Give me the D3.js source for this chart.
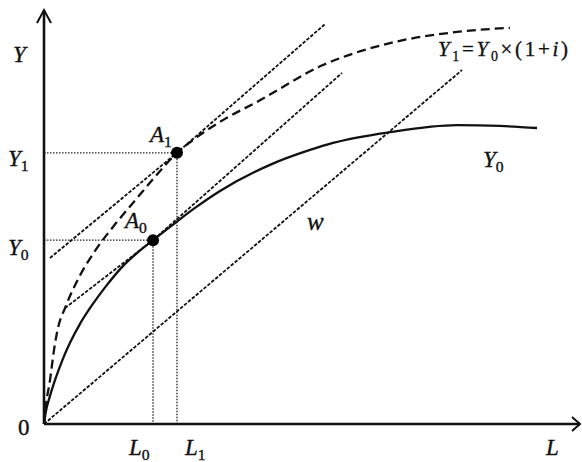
<!DOCTYPE html>
<html>
<head>
<meta charset="utf-8">
<script src="https://cdn.jsdelivr.net/npm/d3@7"></script>
<style>
body{margin:0;background:#fff}
text{font-family:"Liberation Serif","Times New Roman",serif;fill:#111;stroke:#111;stroke-width:0.35}
</style>
</head>
<body>
<svg width="582" height="462"></svg>
<script>
// output curve Y0 (L, Y)
var curveY0 = [[0,0],[0.37,3.1],[1.12,6.8],[2.05,10.6],[3.36,15.2],[4.85,19.6],[6.72,24.2],
  [8.96,28.7],[11.57,33.3],[14.55,37.9],[17.54,41.5],[20.34,44.4],[23.51,47.6],[28.17,52.2],
  [32.84,56.3],[42.16,62.6],[49.63,66.2],[53.92,67.9],[64.55,70.5],[77.05,72.2],[85.07,72.0],
  [91.98,71.5]];
// shifted curve Y1 = Y0*(1+i)
var curveY1 = [[0,0],[0.37,4.6],[1.12,10.6],[1.87,17.9],[2.61,23.2],[3.92,28.0],[6.16,34.5],
  [9.51,41.8],[12.87,47.6],[16.60,53.4],[20.71,59.7],[24.81,65.5],[28.54,69.3],[33.77,73.7],
  [39.74,77.8],[52.05,86.7],[64.55,92.0],[77.05,94.7],[86.94,95.7]];
// wage line and the two tangents parallel to it
var lineW = [[0,0],[77.99,85.5]];
var tangentA1 = [[1.12,40.1],[24.81,65.5],[52.43,96.6]];
var tangentA0 = [[3.92,28.0],[20.34,44.4],[55.60,84.8]];
// equilibrium points
var pointNames = ["A0","A1"];
var pointL = [20.34,24.81];
var pointY = [44.4,65.5];

var svg = d3.select("svg");
var x = d3.scaleLinear().domain([0,100]).range([44,580]);
var y = d3.scaleLinear().domain([0,100]).range([424,10]);

var line = d3.line().x(function(d){return x(d[0]);}).y(function(d){return y(d[1]);});
var smooth = d3.line().x(function(d){return x(d[0]);}).y(function(d){return y(d[1]);})
  .curve(d3.curveMonotoneX);

// guide lines
var guides = svg.append("g").attr("fill","none").attr("stroke","#222")
  .attr("stroke-width",1.3).attr("stroke-dasharray","1.5,1.5");
pointL.forEach(function(l,i){
  guides.append("line").attr("x1",x(0)).attr("y1",y(pointY[i])).attr("x2",x(l)).attr("y2",y(pointY[i]));
  guides.append("line").attr("x1",x(l)).attr("y1",y(pointY[i])).attr("x2",x(l)).attr("y2",y(0));
});

// straight dashed lines
svg.append("g").attr("fill","none").attr("stroke","#111").attr("stroke-width",1.8)
  .attr("stroke-dasharray","3.5,1.6")
  .selectAll("path").data([lineW,tangentA1,tangentA0]).enter().append("path")
  .attr("d",line);

// curves
svg.append("path").datum(curveY1).attr("d",smooth).attr("fill","none")
  .attr("stroke","#111").attr("stroke-width",2.3).attr("stroke-dasharray","9,5");
svg.append("path").datum(curveY0).attr("d",smooth).attr("fill","none")
  .attr("stroke","#111").attr("stroke-width",2.3);

// axes
var ax = svg.append("g").attr("fill","none").attr("stroke","#111").attr("stroke-width",2.6);
ax.append("line").attr("x1",x(0)).attr("y1",y(0)).attr("x2",x(100)).attr("y2",y(0));
ax.append("line").attr("x1",x(0)).attr("y1",y(0)).attr("x2",x(0)).attr("y2",y(100));
ax.append("path").attr("stroke-width",2)
  .attr("d","M"+(x(0)-7)+","+(y(100)+13)+"L"+x(0)+","+y(100)+"L"+(x(0)+7)+","+(y(100)+13));
ax.append("path").attr("stroke-width",2)
  .attr("d","M"+(x(100)-8)+","+(y(0)-7)+"L"+x(100)+","+y(0)+"L"+(x(100)-8)+","+(y(0)+7));

// points
svg.selectAll("circle.pt").data(pointL).enter().append("circle")
  .attr("cx",function(d){return x(d);})
  .attr("cy",function(d,i){return y(pointY[i]);})
  .attr("r",6).attr("fill","#000");

function label(px,py,main,sub,size){
  var t = svg.append("text").attr("x",px).attr("y",py).attr("font-size",size);
  t.append("tspan").attr("font-style","italic").text(main);
  if(sub) t.append("tspan").attr("font-size",size*0.68).attr("dy",5).text(sub);
  return t;
}

label(13,62,"Y",null,23);
label(8,166,"Y","1",23);
label(8,255,"Y","0",23);
svg.append("text").attr("x",18).attr("y",435).attr("font-size",23).text("0");
label(x(pointL[0])-24,455,"L","0",23);
label(x(pointL[1])+8,455,"L","1",23);
label(546,455,"L",null,23);
label(x(pointL[0])-28,y(pointY[0])-12,"A","0",23);
label(x(pointL[1])-27,y(pointY[1])-11,"A","1",23);
label(307,230,"w",null,25);
label(483,167,"Y","0",23);

// formula label
var f = svg.append("text").attr("x",438).attr("y",56).attr("font-size",21)
  .attr("textLength",130).attr("lengthAdjust","spacing");
f.append("tspan").attr("font-style","italic").text("Y");
f.append("tspan").attr("font-size",14).attr("dy",5).text("1");
f.append("tspan").attr("dy",-5).text("=");
f.append("tspan").attr("font-style","italic").text("Y");
f.append("tspan").attr("font-size",14).attr("dy",5).text("0");
f.append("tspan").attr("dy",-5).text("\u00d7(1+");
f.append("tspan").attr("font-style","italic").text("i");
f.append("tspan").text(")");
</script>
</body>
</html>
